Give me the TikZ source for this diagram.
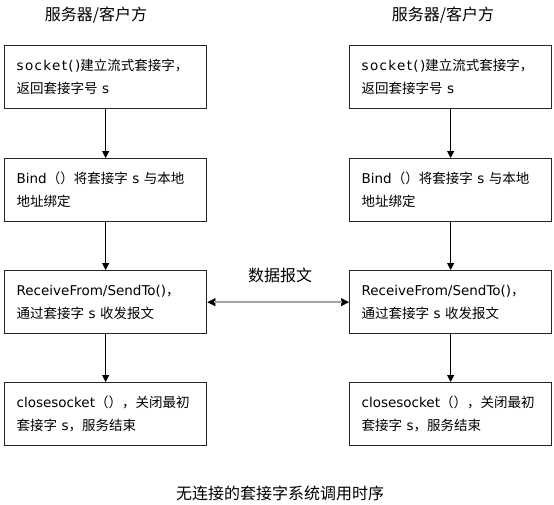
\documentclass[tikz,border=0pt]{standalone}
\usepackage{fontspec}
\setmainfont{DejaVu Sans}
\newfontfamily\cjk{Noto Sans CJK SC}
\usetikzlibrary{arrows.meta}
\newcommand{\zh}[1]{{\cjk #1}}
\begin{document}
\begin{tikzpicture}[x=1pt,y=-1pt,
  stepbox/.style={draw=black!85,line width=1.3pt,minimum height=63pt,text width=178pt,
    inner xsep=12pt,inner ysep=0pt,align=left,font=\fontsize{13.5}{23}\selectfont,anchor=north west},
  flow/.style={line width=0.8pt,-{Triangle[length=7pt,width=7pt]}},
  msgtips/.style={black,line width=0.6pt,{Triangle[length=8pt,width=8pt]}-{Triangle[length=8pt,width=8pt]}},
  msgline/.style={draw=black!35,line width=2.6pt,shorten <=7pt,shorten >=7pt},
  head/.style={font=\cjk\fontsize{16}{16}\selectfont}]
\useasboundingbox (0,0) rectangle (554,504);
\node[head] (hl) at (96,15) {服务器/客户方};
\node[head] (hr) at (443,15) {服务器/客户方};
% left column
\node[stepbox] (l1) at (4,45) {{\addfontfeature{LetterSpace=10}socket()}\zh{建立流式套接字，}\\\zh{返回套接字号} s};
\node[stepbox] (l2) at (4,158) {Bind\zh{（）将套接字} s \zh{与本地}\\\zh{地址绑定}};
\node[stepbox] (l3) at (4,270) {ReceiveFrom/SendTo()\zh{，}\\\zh{通过套接字} s \zh{收发报文}};
\node[stepbox] (l4) at (4,382) {closesocket\zh{（），关闭最初}\\\zh{套接字} s\zh{，服务结束}};
% right column
\node[stepbox] (r1) at (349,45) {{\addfontfeature{LetterSpace=10}socket()}\zh{建立流式套接字，}\\\zh{返回套接字号} s};
\node[stepbox] (r2) at (349,158) {Bind\zh{（）将套接字} s \zh{与本地}\\\zh{地址绑定}};
\node[stepbox] (r3) at (349,270) {ReceiveFrom/SendTo()\zh{，}\\\zh{通过套接字} s \zh{收发报文}};
\node[stepbox] (r4) at (349,382) {closesocket\zh{（），关闭最初}\\\zh{套接字} s\zh{，服务结束}};
\draw[flow] (l1.south) -- (l2.north);
\draw[flow] (l2.south) -- (l3.north);
\draw[flow] (l3.south) -- (l4.north);
\draw[flow] (r1.south) -- (r2.north);
\draw[flow] (r2.south) -- (r3.north);
\draw[flow] (r3.south) -- (r4.north);
\draw[msgtips] (l3.east) -- (r3.west);
\draw[msgline] (l3.east) -- (r3.west);
\node[head] (ml) at (280,275) {数据报文};
\node[font=\cjk\fontsize{16}{16}\selectfont] (cap) at (280,493) {无连接的套接字系统调用时序};
\end{tikzpicture}
\end{document}
